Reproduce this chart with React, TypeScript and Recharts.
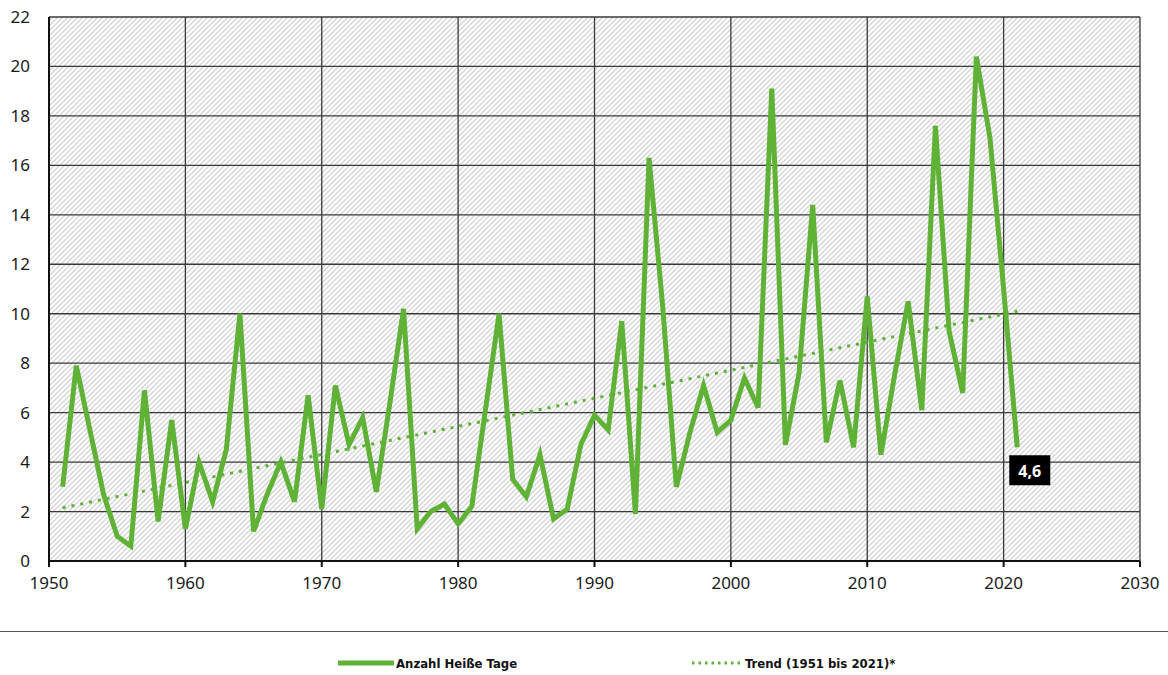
import React from "react";
import { LineChart, Line, XAxis, YAxis, CartesianGrid, LabelList } from "recharts";

const years = [
  1951, 1952, 1953, 1954, 1955, 1956, 1957, 1958, 1959, 1960,
  1961, 1962, 1963, 1964, 1965, 1966, 1967, 1968, 1969, 1970,
  1971, 1972, 1973, 1974, 1975, 1976, 1977, 1978, 1979, 1980,
  1981, 1982, 1983, 1984, 1985, 1986, 1987, 1988, 1989, 1990,
  1991, 1992, 1993, 1994, 1995, 1996, 1997, 1998, 1999, 2000,
  2001, 2002, 2003, 2004, 2005, 2006, 2007, 2008, 2009, 2010,
  2011, 2012, 2013, 2014, 2015, 2016, 2017, 2018, 2019, 2020, 2021,
];

const hotDays = [
  3.0, 7.9, 5.3, 2.7, 1.0, 0.6, 6.9, 1.6, 5.7, 1.3,
  4.0, 2.4, 4.5, 10.0, 1.2, 2.7, 4.0, 2.4, 6.7, 2.1,
  7.1, 4.7, 5.8, 2.8, 6.4, 10.2, 1.3, 2.0, 2.3, 1.5,
  2.2, 6.1, 10.0, 3.3, 2.6, 4.3, 1.7, 2.1, 4.7, 5.9,
  5.3, 9.7, 1.9, 16.3, 10.3, 3.0, 5.2, 7.1, 5.2, 5.7,
  7.4, 6.2, 19.1, 4.7, 7.6, 14.4, 4.8, 7.3, 4.6, 10.7,
  4.3, 7.5, 10.5, 6.1, 17.6, 9.3, 6.8, 20.4, 17.1, 11.0, 4.6,
];

// trend 1951 bis 2021, start and end
const trendYears = [1951, 2021];
const trendValues = [2.15, 10.1];

const xTicks = [1950, 1960, 1970, 1980, 1990, 2000, 2010, 2020, 2030];
const yTicks = [0, 2, 4, 6, 8, 10, 12, 14, 16, 18, 20, 22];

const GREEN = "#5fb236";

const series = years.map((year, i) => ({ year, value: hotDays[i] }));
const trend = trendYears.map((year, i) => ({ year, value: trendValues[i] }));

const fmt = (v: number) => v.toFixed(1).replace(".", ",");

const LastLabel = (props: any) => {
  const { x, y, value, index } = props;
  if (index !== series.length - 1) return null;
  return (
    <g>
      <rect x={x - 8} y={y + 8} width={41} height={30} fill="#000" />
      <text
        x={x + 12.5}
        y={y + 29.5}
        textAnchor="middle"
        fill="#fff"
        fontSize={16}
        fontWeight="bold"
        fontFamily="Noto Sans"
      >
        {fmt(value)}
      </text>
    </g>
  );
};

const tickStyle = { fill: "#1a1a1a", fontSize: 17, fontFamily: "Noto Sans" };

export default function App() {
  return (
    <div style={{ position: "absolute", left: 0, top: 0, width: 1168, height: 675, background: "#fff" }}>
      <LineChart width={1168} height={600} margin={{ top: 17, right: 28, left: 9, bottom: 9 }}>
        <defs>
          <pattern id="hatch" patternUnits="userSpaceOnUse" width={5} height={5}>
            <rect width={5} height={5} fill="#fff" />
            <path d="M0,5 L5,0 M-1,1 L1,-1 M4,6 L6,4" stroke="#d4d4d4" strokeWidth={1.3} />
          </pattern>
        </defs>
        <CartesianGrid fill="url(#hatch)" fillOpacity={1} stroke="#3a3a3a" strokeWidth={1.3} />
        <XAxis
          type="number"
          dataKey="year"
          domain={[1950, 2030]}
          ticks={xTicks}
          height={30}
          tick={tickStyle}
          tickSize={6}
          tickMargin={10}
          axisLine={{ stroke: "#111", strokeWidth: 2 }}
          tickLine={{ stroke: "#111", strokeWidth: 2 }}
          allowDataOverflow
        />
        <YAxis
          type="number"
          domain={[0, 22]}
          ticks={yTicks}
          width={40}
          tick={tickStyle}
          tickSize={0}
          tickMargin={19}
          axisLine={{ stroke: "#111", strokeWidth: 2 }}
          tickLine={false}
        />
        <Line
          data={trend}
          dataKey="value"
          stroke={GREEN}
          strokeWidth={3}
          strokeDasharray="3 6"
          dot={false}
          activeDot={false}
          isAnimationActive={false}
        />
        <Line
          data={series}
          dataKey="value"
          stroke={GREEN}
          strokeWidth={5}
          strokeLinejoin="miter"
          dot={false}
          activeDot={false}
          isAnimationActive={false}
        >
          <LabelList dataKey="value" content={LastLabel} />
        </Line>
      </LineChart>
      <div style={{ position: "absolute", left: 0, top: 631, width: 1168, height: 0, borderTop: "1.5px solid #555" }} />
      <div
        style={{
          position: "absolute",
          top: 655,
          left: 0,
          width: 1168,
          fontFamily: "DejaVu Sans Condensed",
          fontWeight: "bold",
          fontSize: 13,
          color: "#111",
        }}
      >
        <div style={{ position: "absolute", left: 338, display: "flex", alignItems: "center" }}>
          <svg width={56} height={16}>
            <line x1={0} y1={8} x2={55} y2={8} stroke={GREEN} strokeWidth={5} strokeLinecap="round" />
          </svg>
          <span style={{ marginLeft: 2 }}>Anzahl Heiße Tage</span>
        </div>
        <div style={{ position: "absolute", left: 690, display: "flex", alignItems: "center" }}>
          <svg width={54} height={16}>
            <line x1={2} y1={8} x2={52} y2={8} stroke={GREEN} strokeWidth={3} strokeDasharray="2.5 4" />
          </svg>
          <span style={{ marginLeft: 1 }}>Trend (1951 bis 2021)*</span>
        </div>
      </div>
    </div>
  );
}
